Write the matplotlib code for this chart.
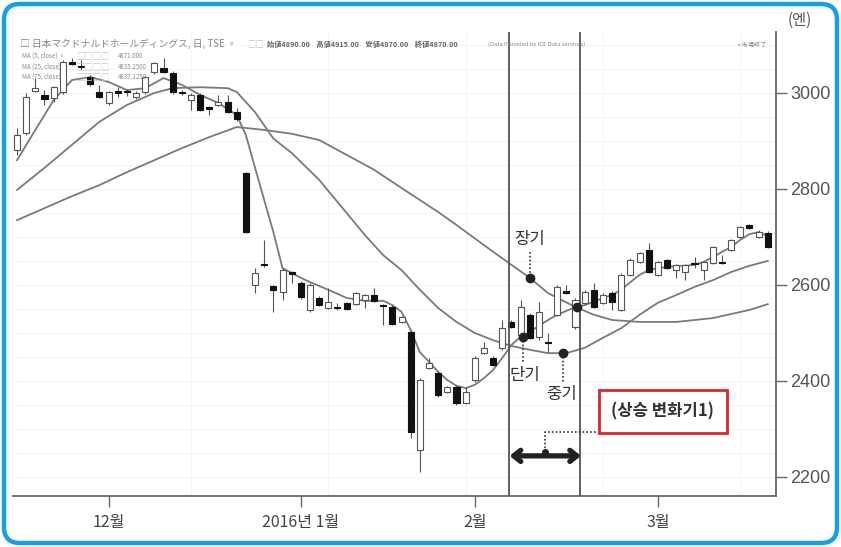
import numpy as np
import matplotlib.pyplot as plt
from matplotlib.patches import Rectangle, FancyBboxPatch

plt.rcParams['font.family'] = ['Noto Sans CJK KR', 'Noto Sans CJK JP', 'DejaVu Sans']

# daily candles 2015-11-16 .. 2016-03-17 (index 0..82)
opens = [2881, 2917, 3004, 2996, 2990, 3002, 3064, 3056, 3033, 3002,
         2979, 3004, 3002, 2992, 3002, 3044, 3052, 3042, 3003, 2985,
         2996, 2971, 2975, 2981, 2960, 2833, 2600, 2643, 2598, 2585,
         2627, 2604, 2548, 2573, 2552, 2553, 2562, 2560, 2569, 2579,
         2558, 2554, 2523, 2502, 2256, 2427, 2417, 2377, 2388, 2354,
         2402, 2458, 2448, 2469, 2523, 2496, 2538, 2492, 2481, 2538,
         2587, 2512, 2562, 2590, 2562, 2583, 2548, 2621, 2648, 2673,
         2621, 2652, 2631, 2627, 2646, 2631, 2646, 2648, 2673, 2700,
         2725, 2700, 2708]
highs = [2927, 3000, 3031, 3006, 3015, 3068, 3073, 3069, 3038, 3017,
         3005, 3012, 3008, 3004, 3036, 3065, 3073, 3046, 3006, 2999,
         3000, 2973, 2996, 2996, 2969, 2835, 2635, 2694, 2600, 2635,
         2629, 2608, 2604, 2577, 2594, 2562, 2565, 2585, 2581, 2594,
         2560, 2558, 2535, 2506, 2406, 2448, 2421, 2390, 2392, 2388,
         2452, 2481, 2452, 2527, 2527, 2569, 2542, 2565, 2500, 2600,
         2600, 2573, 2590, 2604, 2583, 2587, 2625, 2656, 2669, 2687,
         2650, 2654, 2644, 2644, 2658, 2650, 2681, 2662, 2696, 2723,
         2727, 2715, 2712]
lows = [2871, 2912, 3002, 2975, 2981, 2998, 3058, 3048, 3015, 2990,
        2975, 2992, 2994, 2988, 2998, 3040, 3042, 2998, 2996, 2965,
        2962, 2954, 2973, 2958, 2942, 2708, 2583, 2638, 2544, 2569,
        2604, 2571, 2544, 2556, 2550, 2548, 2548, 2558, 2552, 2565,
        2517, 2517, 2521, 2281, 2210, 2425, 2367, 2375, 2350, 2352,
        2398, 2456, 2431, 2465, 2510, 2494, 2488, 2485, 2458, 2535,
        2581, 2508, 2560, 2552, 2560, 2548, 2546, 2619, 2646, 2625,
        2619, 2633, 2615, 2610, 2635, 2610, 2644, 2644, 2671, 2698,
        2717, 2698, 2677]
closes = [2912, 2992, 3010, 2988, 3012, 3065, 3060, 3054, 3019, 2992,
          3002, 3000, 3001, 3000, 3033, 3062, 3044, 3002, 3000, 2996,
          2965, 2967, 2981, 2960, 2946, 2710, 2625, 2641, 2590, 2631,
          2623, 2575, 2600, 2558, 2565, 2552, 2550, 2583, 2579, 2567,
          2556, 2519, 2533, 2294, 2402, 2438, 2371, 2387, 2354, 2377,
          2448, 2469, 2433, 2510, 2512, 2554, 2490, 2544, 2479, 2596,
          2583, 2569, 2585, 2554, 2579, 2565, 2621, 2652, 2667, 2627,
          2648, 2635, 2642, 2642, 2644, 2648, 2679, 2646, 2694, 2721,
          2719, 2710, 2679]

month_pos = [10, 31, 50, 70]
month_labels = ['12월', '2016년 1월', '2월', '3월']
price_ticks = [2200, 2400, 2600, 2800, 3000]

# moving averages (short / mid / long)
ma_short_idx = [0, 2, 4, 6, 8, 10, 12, 14, 16, 18, 20, 22, 24, 25, 26, 27, 28, 29, 30,
                31, 32, 34, 36, 38, 40, 41, 42, 43, 44, 45, 46, 47, 48, 49, 50, 51, 52,
                53, 54, 55, 56, 57, 58, 59, 60, 61, 62, 63, 64, 65, 66, 67, 68, 69, 70,
                71, 72, 73, 74, 75, 76, 77, 78, 79, 80, 81, 82]
ma_short = [2860, 2923, 2985, 3027, 3033, 3023, 3006, 3010, 3031, 3017, 2996, 2979, 2954,
            2912, 2844, 2777, 2710, 2635, 2625, 2615, 2606, 2590, 2573, 2567, 2567, 2558,
            2544, 2506, 2460, 2440, 2419, 2402, 2390, 2385, 2392, 2406, 2423, 2448, 2475,
            2492, 2502, 2515, 2527, 2538, 2546, 2554, 2558, 2565, 2573, 2579, 2590, 2606,
            2621, 2631, 2635, 2637, 2640, 2640, 2642, 2648, 2658, 2669, 2679, 2694, 2706,
            2710, 2702]
ma_mid_idx = [0, 3, 6, 9, 12, 15, 17, 20, 23, 24, 26, 28, 30, 33, 36, 38, 40, 42, 44, 46,
              48, 50, 52, 54, 56, 58, 60, 62, 64, 66, 68, 70, 72, 74, 76, 78, 80, 82]
ma_mid = [2798, 2844, 2892, 2940, 2975, 3000, 3010, 3012, 3010, 3002, 2960, 2905, 2875,
          2819, 2750, 2704, 2662, 2631, 2590, 2552, 2523, 2500, 2485, 2473, 2465, 2458,
          2458, 2469, 2490, 2510, 2538, 2563, 2579, 2596, 2610, 2627, 2640, 2650]
ma_long_idx = [0, 3, 6, 9, 12, 15, 18, 21, 24, 27, 30, 33, 36, 39, 42, 44, 46, 48, 51, 54,
               56, 58, 61, 63, 65, 68, 72, 76, 80, 82]
ma_long = [2735, 2760, 2785, 2808, 2835, 2860, 2885, 2908, 2929, 2923, 2915, 2902, 2871,
           2840, 2802, 2777, 2752, 2725, 2683, 2642, 2615, 2583, 2554, 2538, 2527, 2523,
           2523, 2531, 2548, 2560]

W, H = 841, 547
fig = plt.figure(figsize=(W / 100, H / 100), dpi=100)
fig.patch.set_facecolor('white')
ax = fig.add_axes([13 / W, 1 - 496 / H, (776 - 13) / W, (496 - 32) / H])

# faint grid
for v in np.arange(2200, 3101, 50):
    ax.axhline(v, color='#f3f3f3', lw=0.6, zorder=0)
for v in [19, 34, 49, 64, 79]:
    ax.axvline(v, color='#f3f3f3', lw=0.6, zorder=0)

line_kw = dict(color='#7a7a7a', lw=1.3, zorder=2)
ax.plot(ma_long_idx, ma_long, **line_kw)
ax.plot(ma_mid_idx, ma_mid, **line_kw)
ax.plot(ma_short_idx, ma_short, **line_kw)

w = 0.66
for i, (o, h, l, c) in enumerate(zip(opens, highs, lows, closes)):
    ax.vlines(i, l, h, color='#555555', lw=0.8, zorder=3)
    lo = min(o, c)
    hgt = max(abs(c - o), 2.5)
    if c >= o:
        ax.add_patch(Rectangle((i - w / 2, lo), w, hgt, facecolor='white',
                               edgecolor='#555555', lw=0.8, zorder=4))
    else:
        ax.add_patch(Rectangle((i - w / 2, lo), w, hgt, facecolor='#111111',
                               edgecolor='#111111', lw=0.8, zorder=4))

ax.set_xlim(-0.44, 82.9)
ax.set_ylim(2160.4, 3127)

for s in ['top', 'left']:
    ax.spines[s].set_visible(False)
for s in ['right', 'bottom']:
    ax.spines[s].set_color('#666666')
    ax.spines[s].set_linewidth(1.3)
ax.yaxis.tick_right()
ax.set_yticks(price_ticks)
ax.set_yticklabels([str(t) for t in price_ticks], family='Liberation Sans',
                   fontsize=13, color='#555555')
ax.set_xticks(month_pos)
ax.set_xticklabels(month_labels, fontsize=11.5, color='#444444')
ax.tick_params(axis='y', length=8, width=1, color='#666666', pad=2)
ax.tick_params(axis='x', length=8, width=1, color='#666666', pad=5)

# band of the rising transition
ax.axvline(53.7, color='#555555', lw=1.3, zorder=5)
ax.axvline(61.5, color='#555555', lw=1.3, zorder=5)

dot = dict(ls=(0, (1, 1.3)), color='#333333', lw=1.2, zorder=6)
ax.plot([56, 56], [2669, 2615], **dot)
ax.plot([55.3, 55.3], [2492, 2440], **dot)
ax.plot([59.6, 59.6], [2458, 2396], **dot)
ax.plot([57.7, 57.7, 63.5], [2252, 2294, 2294], **dot)
ax.plot([56, 55.3, 59.6, 61.2], [2615, 2492, 2458, 2554], 'o', ms=6,
        color='#222222', zorder=7)
ax.plot(57.7, 2252, 'o', ms=4, color='#222222', zorder=7)

ann = dict(fontsize=12, color='#333333', ha='center', va='center', zorder=8)
ax.text(56, 2694, '장기', **ann)
ax.text(55.5, 2412, '단기', **ann)
ax.text(59.5, 2371, '중기', **ann)

ax.annotate('', xy=(61.6, 2244), xytext=(53.8, 2244),
            arrowprops=dict(arrowstyle='<->,head_length=0.5,head_width=0.4',
                            lw=3.8, color='#222222', shrinkA=0, shrinkB=0), zorder=8)

ax.add_patch(Rectangle((63.6, 2292), 13.9, 89, facecolor='white', edgecolor='#e0242a',
                       lw=2, zorder=8))
ax.text(70.55, 2336.5, '(상승 변화기1)', fontsize=12, fontweight='bold',
        color='#333333', ha='center', va='center', zorder=9)

# header texts
def ftxt(x, y, s, **kw):
    fig.text(x / W, 1 - y / H, s, va='center', **kw)

grey = '#888888'
jp = ['Noto Sans CJK JP', 'DejaVu Sans']
ftxt(20, 44, '□ 日本マクドナルドホールディングス, 日, TSE ◦', fontsize=7,
     color=grey, family=jp)
ftxt(247, 44, '□□', fontsize=6, color='#cccccc', family=jp)
ftxt(267, 44, '始値4890.00    高値4915.00    安値4870.00    終値4870.00', fontsize=5.2,
     color='#666666', fontweight='bold', family=jp)
ftxt(488, 44, '(Data Provided by ICE Data services)', fontsize=4.2, color=grey)
ftxt(738, 45, '• 市場終了', fontsize=4.5, color=grey, family=jp)
ma_rows = [('MA (5, close) ◦', '4871.000'), ('MA (25, close)', '4835.2500'),
           ('MA (75, close)', '4837.1250')]
for k, (lab, val) in enumerate(ma_rows):
    yy = 56 + k * 10.5
    ftxt(22, yy, lab, fontsize=4.4, color=grey)
    ftxt(76, yy, '□□□□', fontsize=6, color='#cccccc', family=jp)
    ftxt(118, yy, val, fontsize=4.4, color=grey)

ftxt(788, 20, '(엔)', fontsize=11, color='#555555')

# rounded blue frame
bg = fig.add_axes([0, 0, 1, 1], zorder=10)
bg.set_xlim(0, W)
bg.set_ylim(H, 0)
bg.axis('off')
bg.patch.set_visible(False)
bg.add_patch(FancyBboxPatch((4, 4), W - 8, H - 8, boxstyle='round,pad=0,rounding_size=16',
                            fill=False, edgecolor='#14a0e4', lw=3.2))

fig.savefig('out.png', dpi=100)
